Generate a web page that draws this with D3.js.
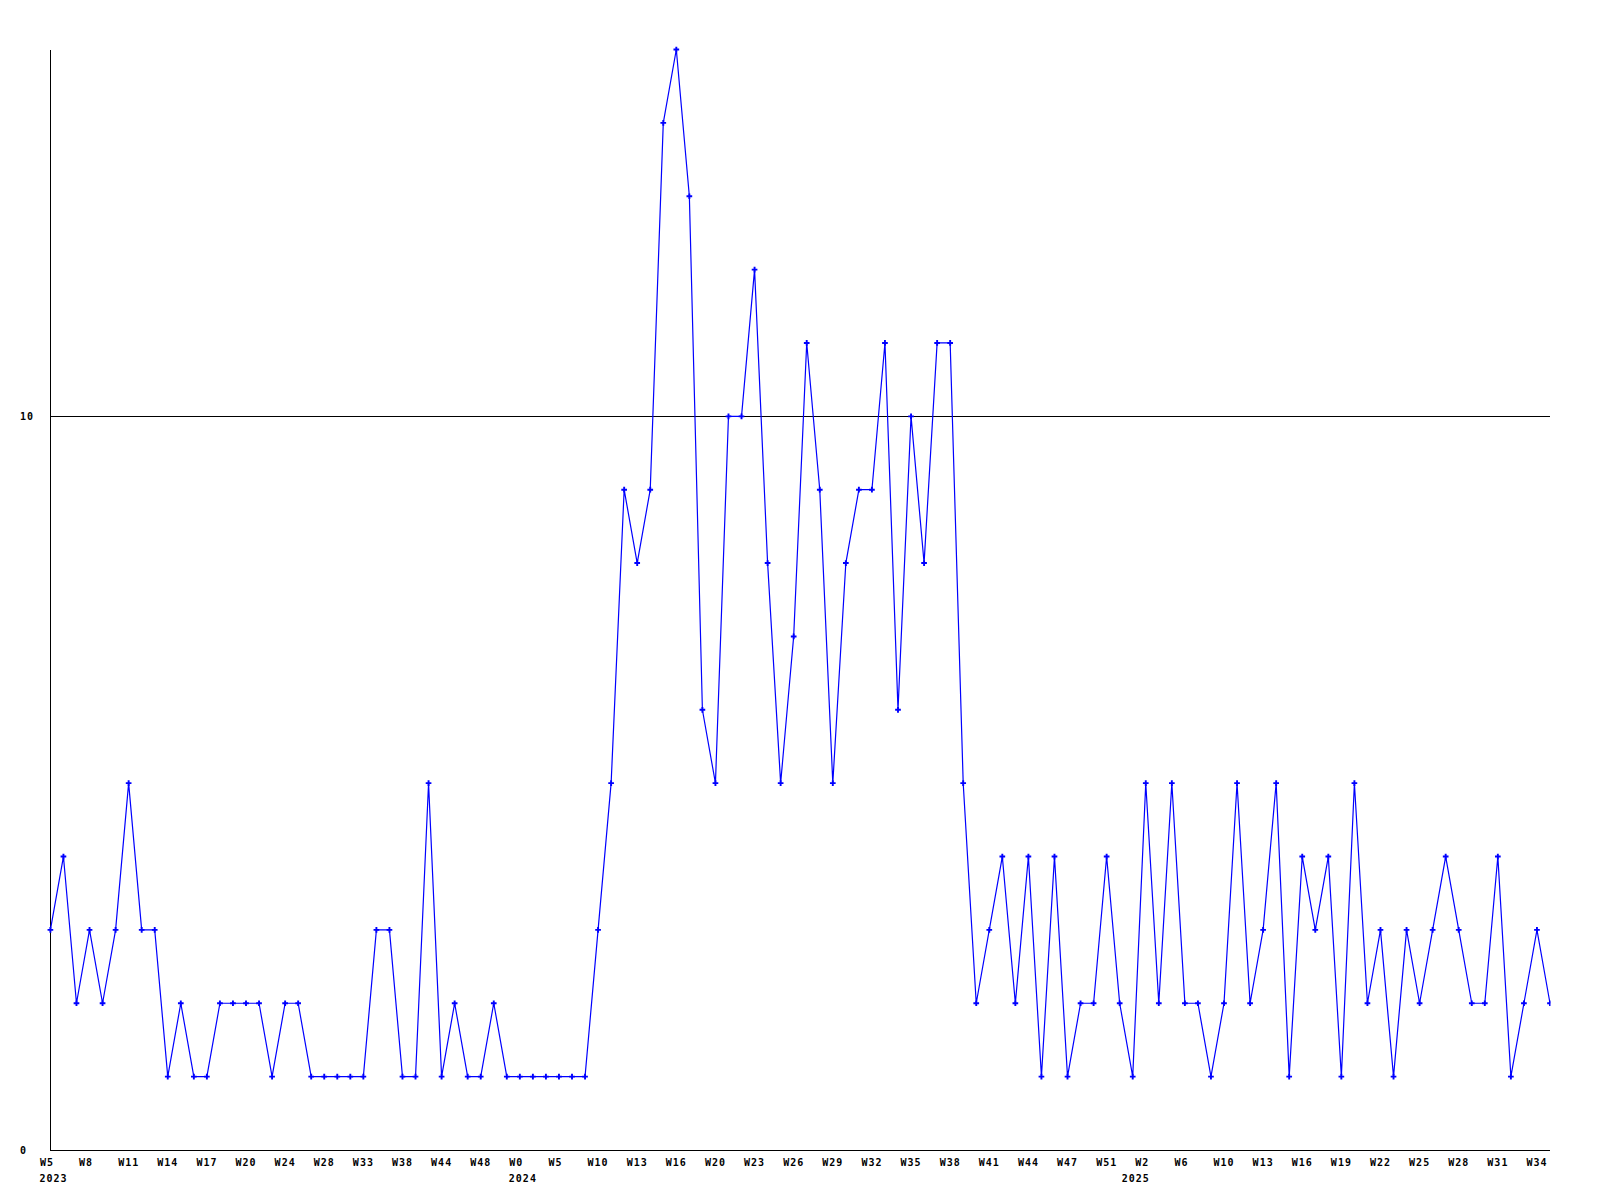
<!DOCTYPE html>
<html>
<head>
<meta charset="utf-8">
<script src="https://cdn.jsdelivr.net/npm/d3@7"></script>
<style>
  html, body { margin: 0; padding: 0; background: #ffffff; }
  svg { display: block; }
  text { font-family: "DejaVu Sans Mono", "Liberation Mono", monospace; font-weight: bold; font-size: 10px; letter-spacing: 1px; fill: #000; }
</style>
</head>
<body>
<svg id="chart" width="1600" height="1200"></svg>
<script>
// ---- data ----
const values = [
  3, 4, 2, 3, 2, 3, 5, 3, 3, 1,
  2, 1, 1, 2, 2, 2, 2, 1, 2, 2,
  1, 1, 1, 1, 1, 3, 3, 1, 1, 5,
  1, 2, 1, 1, 2, 1, 1, 1, 1, 1,
  1, 1, 3, 5, 9, 8, 9, 14, 15, 13,
  6, 5, 10, 10, 12, 8, 5, 7, 11, 9,
  5, 8, 9, 9, 11, 6, 10, 8, 11, 11,
  5, 2, 3, 4, 2, 4, 1, 4, 1, 2,
  2, 4, 2, 1, 5, 2, 5, 2, 2, 1,
  2, 5, 2, 3, 5, 1, 4, 3, 4, 1,
  5, 2, 3, 1, 3, 2, 3, 4, 3, 2,
  2, 4, 1, 2, 3, 2
];
const tickLabels = [
  "W5", "W8", "W11", "W14", "W17", "W20", "W24", "W28", "W33", "W38", "W44", "W48",
  "W0", "W5", "W10", "W13", "W16", "W20", "W23", "W26", "W29", "W32", "W35", "W38",
  "W41", "W44", "W47", "W51",
  "W2", "W6", "W10", "W13", "W16", "W19", "W22", "W25", "W28", "W31", "W34"
];
const tickEvery = 3;
const yearLabels = ["2023", "2024", "2025"];
const yearStartIndex = [0, 36, 83];
const yTicks = [0, 10];
const yMax = 15;

(function () {
// ---- layout ----
const svg = d3.select("#chart");
const mLeft = 50.4, mRight = 1550, mBottom = 1150, mTop = 49.5;

const x = d3.scaleLinear().domain([0, values.length - 1]).range([mLeft, mRight]);
const y = d3.scaleLinear().domain([0, yMax]).range([mBottom, mTop]);

svg.append("rect").attr("width", 1600).attr("height", 1200).attr("fill", "#fff");

svg.append("defs").append("clipPath").attr("id", "plotclip")
  .append("rect").attr("x", 0).attr("y", 0).attr("width", mRight + 0.5).attr("height", 1200);

// gridline at 10
svg.append("g").selectAll("line.grid").data(yTicks.filter(d => d > 0)).join("line")
  .attr("class", "grid")
  .attr("x1", 50).attr("x2", mRight)
  .attr("y1", d => Math.round(y(d)) + 0.5).attr("y2", d => Math.round(y(d)) + 0.5)
  .attr("stroke", "#000").attr("stroke-width", 1).attr("shape-rendering", "crispEdges");

// x axis
const tickIdx = tickLabels.map((_, i) => i * tickEvery);
const xAxis = d3.axisBottom(x).tickValues(tickIdx).tickFormat((d, i) => tickLabels[i]).tickSize(0).tickSizeOuter(0);
const gx = svg.append("g").attr("transform", `translate(0,${mBottom + 0.5})`).call(xAxis);
gx.select(".domain").attr("stroke", "#000").attr("shape-rendering", "crispEdges")
  .attr("d", `M50,0H${mRight}`);
gx.selectAll(".tick text")
  .attr("text-anchor", "start").attr("x", -11).attr("y", 0).attr("dy", 0)
  .attr("transform", "translate(0,15.5)")
  .style("font-family", "'DejaVu Sans Mono', monospace").style("font-size", "10px").style("font-weight", "bold");

// year labels
svg.append("g").selectAll("text.year").data(yearLabels).join("text")
  .attr("class", "year")
  .attr("x", (d, i) => x(yearStartIndex[i]) - 11)
  .attr("y", mBottom + 32)
  .text(d => d);

// y axis
const yAxis = d3.axisLeft(y).tickValues(yTicks).tickFormat(d3.format("d")).tickSize(0).tickSizeOuter(0);
const gy = svg.append("g").attr("transform", `translate(50.5,0)`).call(yAxis);
gy.select(".domain").attr("stroke", "#000").attr("shape-rendering", "crispEdges")
  .attr("d", `M0,50V${mBottom}`);
gy.selectAll(".tick text")
  .attr("text-anchor", "start").attr("x", -30.5).attr("dy", "0.35em")
  .style("font-family", "'DejaVu Sans Mono', monospace").style("font-size", "10px").style("font-weight", "bold");

// data line
const plot = svg.append("g").attr("clip-path", "url(#plotclip)");
const line = d3.line().x((d, i) => x(i)).y(d => y(d));
plot.append("path").datum(values)
  .attr("d", line)
  .attr("fill", "none").attr("stroke", "#0000ff").attr("stroke-width", 1.2);

// markers
const sym = d3.symbol().type(d3.symbolCross).size(18);
plot.append("g").selectAll("path.pt").data(values).join("path")
  .attr("class", "pt")
  .attr("transform", (d, i) => `translate(${x(i)},${y(d)})`)
  .attr("d", sym)
  .attr("fill", "#0000ff");
})();
</script>
</body>
</html>
